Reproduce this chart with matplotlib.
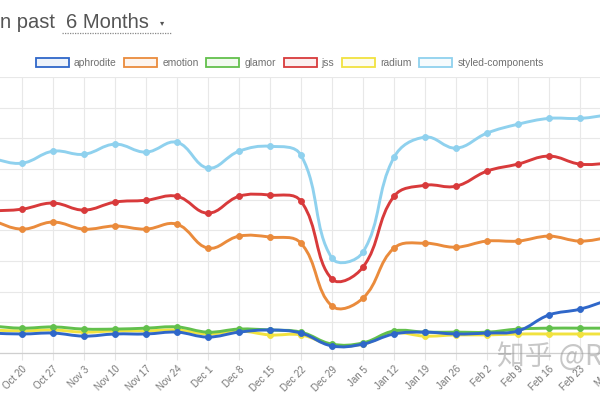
import matplotlib
matplotlib.use("Agg")
import matplotlib.pyplot as plt
from matplotlib.path import Path
from matplotlib.patches import PathPatch, Patch
from matplotlib.lines import Line2D
import numpy as np

# weekly points, first one sits just left of the visible area
weeks = ['Oct 13', 'Oct 20', 'Oct 27', 'Nov 3', 'Nov 10', 'Nov 17', 'Nov 24',
         'Dec 1', 'Dec 8', 'Dec 15', 'Dec 22', 'Dec 29', 'Jan 5', 'Jan 12',
         'Jan 19', 'Jan 26', 'Feb 2', 'Feb 9', 'Feb 16', 'Feb 23', 'Mar 2']

aphrodite = [65, 62, 65, 55, 62, 62, 68, 52, 68, 75, 65, 23, 29, 62, 68, 62, 65, 72, 124, 143, 176]
emotion = [433, 404, 427, 404, 414, 404, 420, 342, 381, 378, 358, 153, 179, 342, 358, 345, 365, 365, 381, 365, 378]
glamor = [88, 81, 85, 78, 78, 81, 85, 68, 78, 75, 68, 29, 33, 72, 68, 68, 68, 78, 81, 81, 81]
jss = [463, 469, 489, 466, 492, 498, 511, 456, 511, 515, 495, 241, 280, 511, 547, 544, 593, 616, 642, 616, 619]
radium = [75, 72, 75, 68, 72, 72, 75, 62, 72, 59, 59, 26, 29, 65, 55, 59, 59, 62, 62, 62, 62]
styled = [635, 619, 658, 648, 681, 655, 687, 603, 658, 674, 645, 309, 329, 638, 704, 668, 717, 746, 765, 765, 778]

names = ['aphrodite', 'emotion', 'glamor', 'jss', 'radium', 'styled-components']
series = [aphrodite, emotion, glamor, jss, radium, styled]
colors = ['#2f67c9', '#ea8b3c', '#62c04c', '#d83a3b', '#f1e23f', '#8fd1ee']


def bezier_path(xs, ys, tension=0.4, sx=31.0, sy=0.307):
    # chart.js style spline: control points from neighbours, distances in pixel-ish units
    px = np.array(xs, dtype=float) * sx
    py = np.array(ys, dtype=float) * sy
    n = len(px)
    verts = [(xs[0], ys[0])]
    codes = [Path.MOVETO]
    cin = []
    cout = []
    for i in range(n):
        p0 = (px[max(i - 1, 0)], py[max(i - 1, 0)])
        p2 = (px[min(i + 1, n - 1)], py[min(i + 1, n - 1)])
        d01 = np.hypot(px[i] - p0[0], py[i] - p0[1])
        d12 = np.hypot(p2[0] - px[i], p2[1] - py[i])
        tot = d01 + d12
        s01 = d01 / tot if tot else 0
        s12 = d12 / tot if tot else 0
        fa = tension * s01
        fb = tension * s12
        cin.append((px[i] - fa * (p2[0] - p0[0]), py[i] - fa * (p2[1] - p0[1])))
        cout.append((px[i] + fb * (p2[0] - p0[0]), py[i] + fb * (p2[1] - p0[1])))
    for i in range(n - 1):
        verts.append((cout[i][0] / sx, cout[i][1] / sy))
        verts.append((cin[i + 1][0] / sx, cin[i + 1][1] / sy))
        verts.append((xs[i + 1], ys[i + 1]))
        codes += [Path.CURVE4] * 3
    return Path(verts, codes)


plt.rcParams['font.family'] = ['Liberation Sans', 'DejaVu Sans']

fig = plt.figure(figsize=(6, 4), dpi=100)
ax = fig.add_axes([-0.015, 0.1175, 1.0333, 0.69])

x = np.arange(len(weeks))
for k in range(len(series) - 1, -1, -1):
    patch = PathPatch(bezier_path(x, series[k]), facecolor='none', edgecolor=colors[k],
                      lw=2.1, zorder=3 + (len(series) - k))
    ax.add_patch(patch)
    ax.plot(x, series[k], 'o', color=colors[k], markersize=4.3, markeredgewidth=0.6,
            markeredgecolor=colors[k], zorder=3 + (len(series) - k))

ax.set_xlim(0, len(weeks) - 1)
ax.set_ylim(0, 900)
ax.set_yticks(np.arange(0, 901, 100))
ax.set_xticks(x)
ax.set_xticklabels(weeks, rotation=45, ha='right', rotation_mode='anchor',
                   fontsize=7, color='#777777')
ax.tick_params(axis='x', length=5, color='#e4e4e4', pad=3)
ax.tick_params(axis='y', length=0, labelleft=False)
ax.grid(True, color='#e8e8e8', lw=0.8)
ax.set_axisbelow(True)
for s in ['top', 'right', 'left']:
    ax.spines[s].set_visible(False)
ax.spines['bottom'].set_color('#cfcfcf')
ax.spines['bottom'].set_linewidth(0.9)

# legend boxes like chart.js
handles = [Patch(facecolor=matplotlib.colors.to_rgba(c, 0.08), edgecolor=c, lw=1.3) for c in colors]
fig.legend(handles, names, loc='center', bbox_to_anchor=(0.483, 0.8425), ncol=6,
           frameon=False, fontsize=7.4, handlelength=3.2, handleheight=0.85,
           handletextpad=0.5, columnspacing=0.75, labelcolor='#707070')

# heading, cut at the left edge
fig.text(0.0, 0.93, 'n past', fontsize=14.5, color='#555555', va='baseline', ha='left')
fig.text(0.11, 0.93, '6 Months', fontsize=14.5, color='#555555', va='baseline', ha='left')
fig.text(0.266, 0.938, '\u25be', fontsize=6, color='#555555', va='baseline', ha='left',
         family=['DejaVu Sans'])
fig.add_artist(Line2D([0.103, 0.287], [0.917, 0.917], transform=fig.transFigure,
                      color='#888888', lw=0.9, ls=(0, (1, 1))))

# watermark
fig.text(0.828, 0.108, '知乎 @R', fontsize=20, color='#9a9a9a', alpha=0.55,
         va='center', ha='left', family=['Noto Sans CJK SC', 'DejaVu Sans'], zorder=20)

fig.savefig('out.png', dpi=100)
